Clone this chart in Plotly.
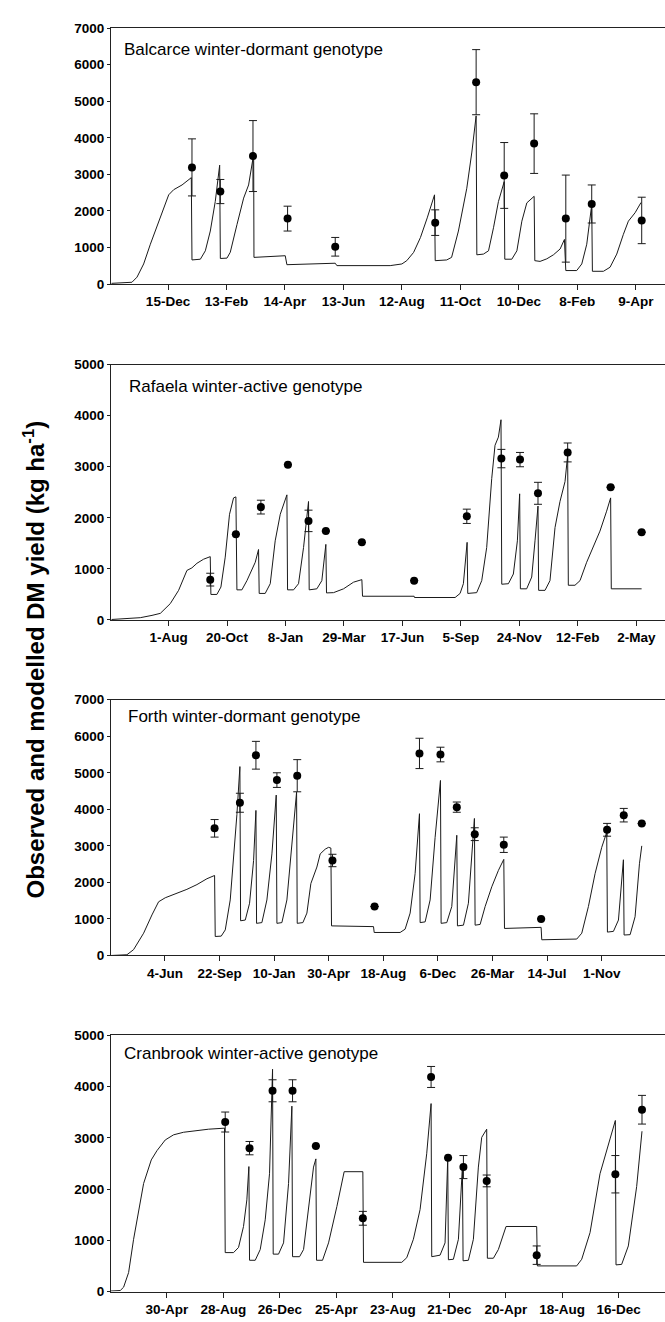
import plotly.graph_objects as go
import pandas as pd

# ---------------- Balcarce winter-dormant ----------------
bal_title = "Balcarce winter-dormant genotype"
bal_base = "2004-12-15"
bal_tick_dates = ["2004-12-15", "2005-02-13", "2005-04-14", "2005-06-13", "2005-08-12",
                  "2005-10-11", "2005-12-10", "2006-02-08", "2006-04-09"]
bal_tick_labels = ["15-Dec", "13-Feb", "14-Apr", "13-Jun", "12-Aug", "11-Oct", "10-Dec", "8-Feb", "9-Apr"]
bal_model_day = [-58, -37, -31.8, -25, -18.1, -11.3, -6.2, 0.7, 5.8, 14.4, 23.9, 24.6, 33.2, 38.3,
                 43.4, 48.5, 53, 53.7, 60.5, 63.9, 70.8, 77.6, 82.7, 87.9, 88.2, 120.3, 122, 171.6,
                 173.3, 228, 240, 245, 252, 259, 266, 273.5, 274.2, 286, 291, 298, 306.6, 311.8,
                 316.2, 316.9, 323.7, 328.9, 334, 339.1, 345, 345.6, 352.8, 358, 363.1, 368.2,
                 375.7, 376.4, 381.8, 388.7, 395.5, 402.4, 406.8, 408.2, 419.4, 424.6, 429.7,
                 434.8, 435.5, 446.8, 453.6, 460.5, 467.3, 472.4, 479.3, 485.4]
bal_model_val = [20, 50, 190, 550, 1090, 1590, 1990, 2440, 2580, 2710, 2910, 660, 680, 910,
                 1450, 2260, 3250, 700, 710, 870, 1630, 2350, 2710, 3550, 730, 775, 530, 570,
                 505, 505, 550, 640, 865, 1270, 1810, 2440, 640, 660, 730, 1450, 2620, 3610,
                 4600, 800, 820, 910, 1540, 2260, 2800, 680, 680, 910, 1720, 2220,
                 2400, 640, 620, 690, 800, 960, 1220, 370, 370, 550, 1090,
                 2170, 350, 350, 460, 820, 1360, 1720, 1950, 2230]
bal_obs_day = [24.6, 53.7, 87.2, 122.7, 171.6, 274.2, 316.2, 345, 375.7, 408.2, 434.8, 486.1]
bal_obs_val = [3190, 2530, 3500, 1790, 1020, 1680, 5520, 2970, 3840, 1790, 2190, 1740]
bal_obs_err = [780, 330, 970, 340, 255, 350, 890, 900, 815, 1190, 520, 635]

# ---------------- Rafaela winter-active ----------------
raf_title = "Rafaela winter-active genotype"
raf_base = "2006-08-01"
raf_tick_dates = ["2006-08-01", "2006-10-20", "2007-01-08", "2007-03-29", "2007-06-17",
                  "2007-09-05", "2007-11-24", "2008-02-12", "2008-05-02"]
raf_tick_labels = ["1-Aug", "20-Oct", "8-Jan", "29-Mar", "17-Jun", "5-Sep", "24-Nov", "12-Feb", "2-May"]
raf_model_day = [-78, -38.7, -22.7, -11.3, 2.3, 13.7, 25.1, 31.9, 38.8, 47.9, 57, 57.9, 66.1,
                 71.6, 77.5, 83.4, 88.9, 92.1, 93.5, 100.3, 107.2, 114, 118.6, 123.1, 124,
                 132.2, 139.1, 145.9, 152.8, 161.9, 162.8, 171, 177.8, 184.7, 191.5, 192.4,
                 202.9, 209.7, 215.2, 216.1, 225.7, 239.4, 253.1, 264.5, 265.4, 336, 336.5,
                 392.1, 398.9, 403.4, 408.5, 409.4, 421.6, 428.5, 435.3, 442.2, 446.7, 451.3,
                 454.9, 455.9, 465, 471.8, 477.3, 480.4, 481.4, 490, 496.9, 501.4, 505.5,
                 506.4, 515.1, 521.9, 528.8, 535.6, 542.5, 546.1, 547, 556.1, 563, 572.1,
                 581.2, 590.3, 599.4, 604.9, 605.8, 647.3]
raf_model_val = [10, 45, 90, 130, 320, 580, 970, 1020, 1110, 1190, 1240, 500, 500,
                 645, 1230, 2070, 2390, 2410, 590, 590, 770, 1000, 1130, 1380, 520,
                 520, 710, 1550, 2070, 2450, 590, 590, 710, 1420, 2320, 590,
                 610, 770, 1480, 530, 535, 610, 740, 790, 465, 465, 440,
                 440, 520, 710, 1520, 520, 535, 770, 1420, 2770, 3420, 3580,
                 3920, 700, 710, 900, 1550, 2470, 610, 610, 840, 1550, 2230,
                 580, 580, 770, 1810, 2320, 2710, 3230, 680, 680, 770, 1130,
                 1420, 1740, 2130, 2390, 610, 610]
raf_obs_day = [57, 92.1, 126.3, 163.3, 191.5, 215.2, 264.5, 336, 408.1, 455.4, 480.9, 505.5, 546.1, 604.9, 647.3]
raf_obs_val = [790, 1680, 2210, 3040, 1940, 1740, 1520, 770, 2030, 3160, 3140, 2480, 3280, 2600, 1720]
raf_obs_err = [125, None, 135, None, 210, None, None, None, 140, 180, 140, 215, 185, None, None]

# ---------------- Forth winter-dormant ----------------
for_title = "Forth winter-dormant genotype"
for_base = "2008-06-04"
for_tick_dates = ["2008-06-04", "2008-09-22", "2009-01-10", "2009-04-30", "2009-08-18",
                  "2009-12-06", "2010-03-26", "2010-07-14", "2010-11-01"]
for_tick_labels = ["4-Jun", "22-Sep", "10-Jan", "30-Apr", "18-Aug", "6-Dec", "26-Mar", "14-Jul", "1-Nov"]
for_model_day = [-108.7, -76.6, -63.2, -43, -26.2, -12.8, 0.6, 24.1, 44.2, 64.4, 84.5, 100,
                 101.3, 113.4, 121.5, 131.5, 140.3, 145, 151, 152.4, 161.8, 170.5, 178.6, 183.3,
                 184.6, 195.3, 205.4, 215.5, 224.2, 225.6, 235.6, 245.7, 255.8, 265.2, 266.5,
                 277.9, 286, 294, 306.1, 312.8, 322.9, 329.6, 334.3, 335.6, 420.2, 421.6, 473.8,
                 483.9, 494, 504, 512.8, 514.1, 524.2, 534.3, 544.3, 555.1, 556.4, 567.8, 577.9,
                 588, 589.3, 601.4, 611.4, 623.5, 624.9, 635, 645.1, 658.5, 671.9, 682.7, 684.1,
                 757.9, 759.2, 829.7, 839.8, 853.2, 866.6, 880, 890.1, 891.5, 903.6, 913.7,
                 923.7, 925.1, 937.2, 947.2, 956, 960.7]
for_model_val = [0, 20, 160, 610, 1110, 1470, 1580, 1700, 1810, 1940, 2100, 2190,
                 520, 530, 700, 1520, 2960, 3860, 5170, 950, 970, 1430, 2600, 3970,
                 880, 900, 1520, 2780, 4390, 880, 900, 1520, 3050, 4470, 880,
                 900, 1160, 1970, 2420, 2780, 2910, 2960, 2940, 810, 790, 630, 630,
                 720, 1160, 2240, 3880, 900, 920, 1520, 3230, 4790, 880, 900, 1340,
                 3290, 810, 830, 1430, 3750, 830, 850, 1340, 1880, 2330, 2630, 740,
                 770, 430, 450, 610, 1340, 2240, 2960, 3370, 640, 660, 970,
                 2620, 560, 570, 1060, 2510, 3000]
for_obs_day = [100, 151, 183.3, 225.6, 266.5, 337.5, 422.3, 512.8, 555.1, 588, 624.2, 682.7, 757.9, 890.8, 924.4, 960.7]
for_obs_val = [3480, 4180, 5480, 4800, 4920, 2600, 1340, 5530, 5500, 4060, 3320, 3030, 1000, 3440, 3840, 3610]
for_obs_err = [240, 260, 380, 200, 440, 170, None, 415, 200, 140, 175, 210, None, 175, 185, None]

# ---------------- Cranbrook winter-active ----------------
cra_title = "Cranbrook winter-active genotype"
cra_base = "2005-04-30"
cra_tick_dates = ["2005-04-30", "2005-08-28", "2005-12-26", "2006-04-25", "2006-08-23",
                  "2006-12-21", "2007-04-20", "2007-08-18", "2007-12-16"]
cra_tick_labels = ["30-Apr", "28-Aug", "26-Dec", "25-Apr", "23-Aug", "21-Dec", "20-Apr", "18-Aug", "16-Dec"]
cra_model_day = [-118.9, -99.2, -92.1, -81.5, -70.9, -60.3, -49.6, -33.3, -21.3, -3.6, 14.1, 35.3,
                 63.6, 88.4, 122.3, 123.8, 141.5, 152.1, 162.7, 169.8, 174.1, 175.5, 187.6, 198.2,
                 208.8, 218, 224.4, 225.8, 237.1, 247.8, 258.4, 265.5, 266.9, 281.8, 290.3, 300.9,
                 311.5, 316.5, 317.9, 330.6, 343.4, 361.1, 376.6, 416.3, 417.7, 499, 509.6, 523.7,
                 537.9, 552, 561.3, 562.7, 580.4, 591, 596.7, 598.1, 608.7, 619.4, 627.9, 629.3,
                 640.6, 651.2, 661.8, 668.9, 679.5, 680.9, 693.7, 704.3, 720.6, 785.7, 787.2,
                 870.7, 881.4, 899.1, 920.3, 941.6, 952.9, 954.3, 966.3, 980.5, 998.2, 1009.5]
cra_model_val = [10, 20, 85, 370, 1020, 1600, 2110, 2570, 2750, 2960, 3060, 3110,
                 3140, 3170, 3190, 760, 760, 860, 1270, 1790, 2440, 610, 610, 820,
                 1400, 2300, 4340, 730, 730, 950, 2110, 3620, 680, 680, 820, 1690,
                 2430, 2590, 610, 610, 950, 1660, 2340, 2340, 570, 570, 660, 1020,
                 1600, 2690, 3670, 680, 710, 950, 2600, 620, 630, 1020, 2430, 600,
                 610, 1020, 2430, 3010, 3170, 650, 650, 820, 1270, 1270, 500,
                 500, 630, 1150, 2300, 2980, 3340, 520, 530, 890, 2050, 3130]
cra_obs_day = [123.8, 175.5, 224.4, 266.9, 316.5, 416.3, 561.3, 597.4, 630, 679.5, 785.7, 952.9, 1009.5]
cra_obs_val = [3310, 2800, 3920, 3920, 2840, 1430, 4190, 2610, 2430, 2160, 710, 2290, 3550]
cra_obs_err = [195, 130, 215, 215, None, 135, 205, None, 225, 115, 180, 365, 280]

panels = [
    dict(title=bal_title, base=bal_base, tdates=bal_tick_dates, tlabels=bal_tick_labels,
         mday=bal_model_day, mval=bal_model_val, oday=bal_obs_day, oval=bal_obs_val, oerr=bal_obs_err,
         ymax=7000, xr=(-58.5, 510.0), dom=(0.7880, 0.9839), tpos=(0.020, 0.915)),
    dict(title=raf_title, base=raf_base, tdates=raf_tick_dates, tlabels=raf_tick_labels,
         mday=raf_model_day, mval=raf_model_val, oday=raf_obs_day, oval=raf_obs_val, oerr=raf_obs_err,
         ymax=5000, xr=(-78.8, 679.3), dom=(0.5310, 0.7264), tpos=(0.028, 0.916)),
    dict(title=for_title, base=for_base, tdates=for_tick_dates, tlabels=for_tick_labels,
         mday=for_model_day, mval=for_model_val, oday=for_obs_day, oval=for_obs_val, oerr=for_obs_err,
         ymax=7000, xr=(-108.7, 1007.5), dom=(0.2743, 0.4700), tpos=(0.027, 0.936)),
    dict(title=cra_title, base=cra_base, tdates=cra_tick_dates, tlabels=cra_tick_labels,
         mday=cra_model_day, mval=cra_model_val, oday=cra_obs_day, oval=cra_obs_val, oerr=cra_obs_err,
         ymax=5000, xr=(-118.9, 1058.4), dom=(0.0172, 0.2131), tpos=(0.019, 0.930)),
]

FONT = "Arial, Liberation Sans, sans-serif"
fig = go.Figure()
layout = {}
annotations = []


def to_dates(base, days):
    b = pd.Timestamp(base)
    return [b + pd.Timedelta(days=float(d)) for d in days]


for i, p in enumerate(panels, start=1):
    xa = "x" if i == 1 else f"x{i}"
    ya = "y" if i == 1 else f"y{i}"
    fig.add_trace(go.Scatter(
        x=to_dates(p["base"], p["mday"]), y=p["mval"], mode="lines",
        line=dict(color="#1a1a1a", width=1), xaxis=xa, yaxis=ya, showlegend=False,
        hoverinfo="skip"))
    fig.add_trace(go.Scatter(
        x=to_dates(p["base"], p["oday"]), y=p["oval"], mode="markers",
        marker=dict(color="black", size=8),
        error_y=dict(type="data", array=p["oerr"], symmetric=True, color="#1a1a1a",
                     thickness=1, width=4),
        xaxis=xa, yaxis=ya, showlegend=False, cliponaxis=False))
    x0, x1 = p["xr"]
    b = pd.Timestamp(p["base"])
    layout["xaxis" if i == 1 else f"xaxis{i}"] = dict(
        type="date", domain=[0, 1], anchor=ya,
        range=[b + pd.Timedelta(days=x0), b + pd.Timedelta(days=x1)],
        tickvals=p["tdates"], ticktext=p["tlabels"],
        showline=True, linecolor="#222", linewidth=1, mirror=True,
        ticks="outside", ticklen=5, tickwidth=1, tickcolor="#222",
        showgrid=False, zeroline=False,
        tickfont=dict(family=FONT, size=13.5, color="black", weight="bold"))
    layout["yaxis" if i == 1 else f"yaxis{i}"] = dict(
        domain=list(p["dom"]), anchor=xa, range=[0, p["ymax"]],
        tickvals=list(range(0, p["ymax"] + 1, 1000)),
        showline=True, linecolor="#222", linewidth=1, mirror=False,
        ticks="outside", ticklen=3, tickwidth=1, tickcolor="#222",
        showgrid=False, zeroline=False,
        tickfont=dict(family=FONT, size=13.5, color="black", weight="bold"))
    annotations.append(dict(
        text=p["title"], xref=f"{xa} domain", yref=f"{ya} domain",
        x=p["tpos"][0], y=p["tpos"][1], xanchor="left", yanchor="middle",
        showarrow=False, font=dict(family=FONT, size=17, color="black")))

annotations.append(dict(
    text="Observed and modelled DM yield (kg ha<sup>-1</sup>)",
    xref="paper", yref="paper", x=(34 - 111) / 554, y=0.5008,
    xanchor="center", yanchor="middle", textangle=-90, showarrow=False,
    font=dict(family=FONT, size=24, color="black", weight="bold")))

fig.update_layout(
    width=665, height=1322,
    margin=dict(l=111, r=0, t=0, b=0),
    paper_bgcolor="white", plot_bgcolor="white",
    annotations=annotations,
    **layout)

fig.write_html("out.html")
